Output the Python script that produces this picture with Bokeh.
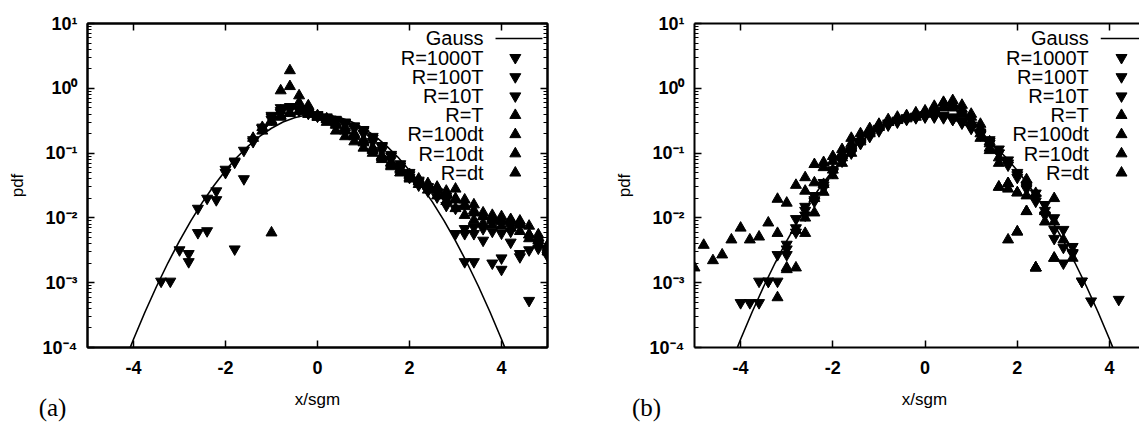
from bokeh.plotting import figure
from bokeh.models import Range1d, LogAxis, LinearAxis, FixedTicker, CustomJSTickFormatter
from bokeh.layouts import row, column
from bokeh.embed import file_html
from bokeh.resources import INLINE
from bokeh.core.properties import value

# ---------------- data ----------------
legend_labels = ["R=1000T", "R=100T", "R=10T", "R=T", "R=100dt", "R=10dt", "R=dt"]
legend_markers = ["inverted_triangle"] * 3 + ["triangle"] * 4
x_label = "x/sgm"
y_label = "pdf"
panel_tags = ["(a)", "(b)"]

gauss_x = [-4.1, -4.0, -3.75, -3.5, -3.25, -3.0, -2.75, -2.5, -2.25, -2.0, -1.75, -1.5, -1.25, -1.0,
           -0.75, -0.5, -0.25, 0.0, 0.25, 0.5, 0.75, 1.0, 1.25, 1.5, 1.75, 2.0, 2.25, 2.5, 2.75,
           3.0, 3.25, 3.5, 3.75, 4.0, 4.1]
gauss_y = [8.9e-5, 1.34e-4, 3.53e-4, 8.73e-4, 2.03e-3, 4.43e-3, 9.09e-3, 1.75e-2, 3.17e-2, 5.40e-2,
           8.63e-2, 0.1295, 0.1826, 0.2420, 0.3011, 0.3521, 0.3867, 0.3989, 0.3867, 0.3521, 0.3011,
           0.2420, 0.1826, 0.1295, 8.63e-2, 5.40e-2, 3.17e-2, 1.75e-2, 9.09e-3, 4.43e-3, 2.03e-3,
           8.73e-4, 3.53e-4, 1.34e-4, 8.9e-5]

# panel (a)
a_x_1000T = [-3.4, -3.2, -2.8, -1.8, -1.2, -1.0, -0.8, -0.6, -0.4, -0.2, 0.0, 0.2, 0.4, 0.6, 0.8,
             1.0, 1.2, 1.4, 1.6, 1.8, 2.0, 2.2, 2.4, 2.6, 2.8, 3.2, 3.4, 3.8, 4.0, 4.6]
a_y_1000T = [1.05e-3, 1.05e-3, 2.1e-3, 3.3e-3, 0.24, 0.36, 0.45, 0.49, 0.47, 0.42, 0.39, 0.36, 0.33,
             0.3, 0.26, 0.22, 0.17, 0.125, 0.09, 0.063, 0.046, 0.036, 0.03, 0.025, 0.02, 2.1e-3,
             2.1e-3, 2.0e-3, 1.6e-3, 5.3e-4]
a_x_100T = [-3.0, -2.8, -2.6, -2.4, -2.2, -2.0, -1.8, -1.6, -1.4, -1.2, -1.0, -0.8, -0.6, -0.4, -0.2,
            0.0, 0.2, 0.4, 0.6, 0.8, 1.0, 1.2, 1.4, 1.6, 1.8, 2.0, 2.2, 2.4, 2.6, 2.8, 3.0, 3.2,
            3.4, 3.6, 4.0, 4.2, 4.4, 4.8]
a_y_100T = [3.2e-3, 2.8e-3, 5.9e-3, 6.3e-3, 1.9e-2, 5.0e-2, 7.2e-2, 4.0e-2, 0.15, 0.25, 0.38, 0.5,
            0.52, 0.48, 0.42, 0.38, 0.35, 0.32, 0.29, 0.26, 0.23, 0.18, 0.13, 0.095, 0.068, 0.05,
            0.038, 0.03, 0.025, 0.019, 5.7e-3, 5.7e-3, 5.7e-3, 4.5e-3, 2.4e-3, 4.2e-3, 2.5e-3, 4.0e-3]
a_x_10T = [-2.6, -2.4, -2.2, -2.0, -1.8, -1.6, -1.4, -1.2, -1.0, -0.8, -0.6, -0.4, -0.2, 0.0, 0.2,
           0.4, 0.6, 0.8, 1.0, 1.2, 1.4, 1.6, 1.8, 2.0, 2.2, 2.4, 2.6, 2.8, 3.0, 3.2, 3.4, 3.6, 3.8,
           4.0, 4.2, 4.4, 4.6, 4.8, 5.0]
a_y_10T = [1.4e-2, 2.0e-2, 2.6e-2, 5.6e-2, 7.5e-2, 0.11, 0.16, 0.24, 0.33, 0.42, 0.47, 0.45, 0.41,
           0.37, 0.34, 0.31, 0.28, 0.24, 0.2, 0.15, 0.11, 0.08, 0.058, 0.042, 0.032, 0.026, 0.021,
           0.0155, 0.014, 0.0068, 0.0072, 0.0068, 0.0062, 0.0058, 0.0062, 0.0028, 0.0032, 0.0034,
           0.0026]
a_x_T = [-1.0, -0.8, -0.6, -0.4, -0.2, 0.0, 0.2, 0.4, 0.6, 0.8, 1.0, 1.2, 1.4, 1.6, 1.8, 2.0, 2.2,
         2.4, 2.6, 2.8, 3.0, 3.2, 3.4, 3.6, 3.8, 4.0, 4.2, 4.4, 4.6, 4.8, 5.0]
a_y_T = [5.9e-3, 0.92, 1.88, 0.77, 0.54, 0.36, 0.3, 0.22, 0.18, 0.15, 0.12, 0.1, 0.08, 0.062, 0.05,
         0.042, 0.036, 0.032, 0.03, 0.026, 0.028, 0.019, 0.016, 0.012, 0.011, 0.0105, 0.0095, 0.009,
         0.0055, 0.0055, 0.0035]
a_x_100dt = [-0.8, -0.6, -0.4, -0.2, 0.0, 0.2, 0.4, 0.6, 0.8, 1.0, 1.2, 1.4, 1.6, 1.8, 2.0, 2.2,
             2.4, 2.6, 2.8, 3.0, 3.2, 3.4, 3.6, 3.8, 4.0, 4.2, 4.4, 4.6, 4.8, 5.0]
a_y_100dt = [0.45, 1.07, 0.6, 0.5, 0.38, 0.33, 0.27, 0.22, 0.18, 0.145, 0.115, 0.09, 0.072, 0.058,
             0.047, 0.04, 0.034, 0.029, 0.024, 0.02, 0.016, 0.013, 0.0105, 0.0098, 0.0096, 0.0092,
             0.0085, 0.0075, 0.005, 0.0038]
a_x_10dt = [-1.4, -1.2, -1.0, -0.8, -0.6, -0.4, -0.2, 0.0, 0.2, 0.4, 0.6, 0.8, 1.0, 1.2, 1.4, 1.6,
            1.8, 2.0, 2.2, 2.4, 2.6, 2.8, 3.0, 3.2, 3.4, 3.6, 3.8, 4.0, 4.2, 4.4, 4.6, 4.8, 5.0]
a_y_10dt = [0.17, 0.25, 0.32, 0.38, 0.42, 0.45, 0.4, 0.37, 0.33, 0.28, 0.23, 0.19, 0.15, 0.11, 0.085,
            0.065, 0.05, 0.04, 0.033, 0.027, 0.022, 0.018, 0.014, 0.011, 0.0092, 0.0082, 0.0078,
            0.0075, 0.007, 0.0062, 0.0048, 0.0045, 0.0033]
a_x_dt = [-1.2, -1.0, -0.8, -0.6, -0.4, -0.2, 0.0, 0.2, 0.4, 0.6, 0.8, 1.0, 1.2, 1.4, 1.6, 1.8, 2.0,
          2.2, 2.4, 2.6, 2.8, 3.0, 3.2, 3.4, 3.6, 3.8, 4.0, 4.2, 4.4, 4.6, 4.8, 5.0]
a_y_dt = [0.22, 0.3, 0.36, 0.41, 0.44, 0.4, 0.36, 0.34, 0.3, 0.25, 0.2, 0.16, 0.12, 0.09, 0.07,
          0.055, 0.045, 0.037, 0.031, 0.027, 0.023, 0.019, 0.015, 0.012, 0.0105, 0.0092, 0.0088,
          0.0082, 0.0078, 0.0055, 0.004, 0.003]

# panel (b)
b_x_1000T = [-3.8, -3.6, -3.4, -3.2, -3.0, -2.8, -2.6, -2.4, -2.2, -2.0, -1.8, -1.6, -1.4, -1.2,
             -1.0, -0.8, -0.6, -0.4, -0.2, 0.0, 0.2, 0.4, 0.6, 0.8, 1.0, 1.2, 1.4, 1.6, 1.8, 2.0,
             2.2, 2.4, 2.6, 2.8, 3.0, 3.2, 3.4, 3.6, 4.2]
b_y_1000T = [4.9e-4, 4.9e-4, 1.05e-3, 1.05e-3, 2.7e-3, 6.0e-3, 1.5e-2, 1.9e-2, 2.9e-2, 5.0e-2,
             7.5e-2, 0.1, 0.14, 0.18, 0.22, 0.27, 0.3, 0.33, 0.35, 0.36, 0.37, 0.36, 0.33, 0.3,
             0.25, 0.2, 0.15, 0.1, 0.07, 0.046, 0.032, 0.024, 0.016, 0.010, 6.6e-3, 2.8e-3,
             1.05e-3, 5.2e-4, 5.5e-4]
b_x_100T = [-4.0, -3.6, -3.4, -3.2, -3.0, -2.8, -2.6, -2.4, -2.2, -2.0, -1.8, -1.6, -1.4, -1.2,
            -1.0, -0.8, -0.6, -0.4, -0.2, 0.0, 0.2, 0.4, 0.6, 0.8, 1.0, 1.2, 1.4, 1.6, 1.8, 2.0,
            2.2, 2.4, 2.6, 2.8, 3.0, 3.2]
b_y_100T = [4.9e-4, 1.05e-3, 1.05e-3, 2.7e-3, 3.9e-3, 9.7e-3, 1.3e-2, 2.2e-2, 3.5e-2, 5.5e-2,
            8.0e-2, 0.11, 0.15, 0.19, 0.24, 0.28, 0.31, 0.34, 0.37, 0.39, 0.4, 0.38, 0.36, 0.32,
            0.27, 0.21, 0.16, 0.115, 0.078, 0.05, 0.03, 0.02, 0.013, 4.8e-3, 2.0e-3, 3.6e-3]
b_x_10T = [-3.0, -2.8, -2.6, -2.4, -2.2, -2.0, -1.8, -1.6, -1.4, -1.2, -1.0, -0.8, -0.6, -0.4, -0.2,
           0.0, 0.2, 0.4, 0.6, 0.8, 1.0, 1.2, 1.4, 1.6, 1.8, 2.0, 2.2, 2.4, 2.6, 2.8, 3.0, 3.2, 3.4]
b_y_10T = [3.3e-3, 7e-3, 1.1e-2, 1.8e-2, 3.2e-2, 5.2e-2, 7.8e-2, 0.105, 0.145, 0.19, 0.235, 0.29,
           0.32, 0.35, 0.36, 0.37, 0.36, 0.35, 0.33, 0.29, 0.24, 0.19, 0.14, 0.1, 0.065, 0.042,
           0.028, 0.018, 0.011, 6.6e-3, 3.5e-3, 2.9e-3, 1.05e-3]
b_x_T = [-3.2, -3.0, -2.8, -2.6, -2.4, -2.2, -2.0, -1.8, -1.6, -1.4, -1.2, -1.0, -0.8, -0.6, -0.4,
         -0.2, 0.0, 0.2, 0.4, 0.6, 0.8, 1.0, 1.2, 1.4, 1.6, 1.8, 2.0, 2.2, 2.4, 2.6, 2.8]
b_y_T = [5.9e-4, 1.7e-3, 1.7e-3, 5.8e-3, 1.2e-2, 2.5e-2, 4.5e-2, 7e-2, 0.1, 0.15, 0.2, 0.26, 0.3,
         0.33, 0.36, 0.4, 0.43, 0.5, 0.61, 0.65, 0.55, 0.4, 0.28, 0.11, 0.03, 4.6e-3, 6.1e-3,
         1.26e-2, 1.7e-3, 8.7e-3, 2.4e-3]
b_x_100dt = [-2.8, -2.6, -2.4, -2.2, -2.0, -1.8, -1.6, -1.4, -1.2, -1.0, -0.8, -0.6, -0.4, -0.2,
             0.0, 0.2, 0.4, 0.6, 0.8, 1.0, 1.2, 1.4, 1.6, 1.8, 2.0, 2.2, 2.4, 2.6, 2.8, 3.0, 3.2]
b_y_100dt = [6.5e-3, 1.0e-2, 2.0e-2, 3.3e-2, 5.5e-2, 8.5e-2, 0.12, 0.16, 0.21, 0.25, 0.3, 0.34, 0.37,
             0.39, 0.42, 0.47, 0.52, 0.55, 0.48, 0.36, 0.24, 0.15, 0.085, 0.034, 0.0245, 0.039,
             0.024, 0.0126, 0.0087, 4.6e-3, 2.4e-3]
b_x_10dt = [-3.2, -3.0, -2.8, -2.6, -2.4, -2.2, -2.0, -1.8, -1.6, -1.4, -1.2, -1.0, -0.8, -0.6,
            -0.4, -0.2, 0.0, 0.2, 0.4, 0.6, 0.8, 1.0, 1.2, 1.4, 1.6, 1.8, 2.0, 2.2, 2.4, 2.8]
b_y_10dt = [1.95e-2, 1.7e-2, 3.2e-2, 4.2e-2, 6.7e-2, 7.2e-2, 8.9e-2, 0.114, 0.17, 0.2, 0.24, 0.28,
            0.33, 0.36, 0.38, 0.42, 0.45, 0.53, 0.6, 0.58, 0.44, 0.3, 0.17, 0.12, 0.03, 0.034,
            0.0245, 0.0126, 1.7e-3, 2.4e-3]
b_x_dt = [-5.0, -4.8, -4.6, -4.4, -4.2, -4.0, -3.8, -3.6, -3.4, -3.2, -3.0, -2.8, -2.6, -2.4, -2.2,
          -2.0, -1.8, -1.6, -1.4, -1.2, -1.0, -0.8, -0.6, -0.4, -0.2, 0.0, 0.2, 0.4, 0.6, 0.8, 1.0,
          1.2, 1.4, 1.6, 1.8, 2.0, 2.2, 2.4, 2.6, 2.8]
b_y_dt = [1.7e-3, 3.8e-3, 2.2e-3, 2.7e-3, 4.6e-3, 7.0e-3, 4.6e-3, 5.1e-3, 8.4e-3, 5.8e-3, 1.6e-3,
          6.5e-3, 2.6e-2, 3.5e-2, 6e-2, 7.5e-2, 0.1, 0.14, 0.17, 0.22, 0.27, 0.3, 0.32, 0.34, 0.36,
          0.4, 0.46, 0.5, 0.5, 0.4, 0.3, 0.2, 0.14, 0.07, 0.028, 6.1e-3, 2.2e-2, 1.7e-3, 1.3e-2,
          2.0e-2]

x_ticks = [-4, -2, 0, 2, 4]
x_tick_labels = {-4: "-4", -2: "-2", 0: "0", 2: "2", 4: "4"}
y_ticks = [1e-4, 1e-3, 1e-2, 1e-1, 1e0, 1e1]
y_minor = [m * 10.0 ** e for e in range(-4, 1) for m in range(2, 10)]

# ---------------- style ----------------
FONT = "Liberation Sans"
SERIF = "Liberation Serif"
BLACK = "#000000"
FRAME_TOP = 23
FRAME_H = 324
PANEL_H = 387

sup_fmt = CustomJSTickFormatter(code="""
const e = Math.round(Math.log10(tick));
const s = {"-": "\u207b", "0": "\u2070", "1": "\u00b9", "2": "\u00b2", "3": "\u00b3", "4": "\u2074"};
return "10" + String(e).split("").map(c => s[c]).join("");
""")


def style_axis(ax):
    ax.axis_line_width = 2
    ax.axis_line_color = BLACK
    ax.major_tick_in = 7
    ax.major_tick_out = 0
    ax.minor_tick_in = 4
    ax.minor_tick_out = 0
    ax.major_tick_line_width = 1.5
    ax.minor_tick_line_width = 1
    ax.major_tick_line_color = BLACK
    ax.minor_tick_line_color = BLACK
    ax.major_label_text_font = FONT
    ax.major_label_text_font_style = "bold"
    ax.major_label_text_color = BLACK
    ax.major_label_text_font_size = "18px"
    ax.axis_label_text_font = FONT
    ax.axis_label_text_font_style = "normal"
    ax.axis_label_text_font_size = "17px"
    ax.axis_label_text_color = BLACK


def tick_only(ax):
    """mirror axis: ticks only, no labels"""
    style_axis(ax)
    ax.major_label_text_font_size = "0px"
    ax.major_label_standoff = 0
    ax.major_label_text_color = None


def make_panel(series, xmax, width, border_left, border_right, leg_text_x, leg_mark_x,
               leg_line_x0, leg_line_x1, mirror_right):
    p = figure(width=width, height=PANEL_H, x_range=Range1d(-5, xmax), y_range=Range1d(1e-4, 10),
               y_axis_type="log", output_backend="svg", toolbar_location=None,
               min_border_left=border_left, min_border_right=border_right,
               min_border_top=FRAME_TOP, min_border_bottom=PANEL_H - FRAME_TOP - FRAME_H)
    p.xgrid.visible = False
    p.ygrid.visible = False
    if mirror_right:
        p.outline_line_color = BLACK
        p.outline_line_width = 2
    else:
        p.outline_line_color = None

    xa = p.xaxis[0]
    xa.ticker = FixedTicker(ticks=x_ticks)
    xa.major_label_overrides = x_tick_labels
    style_axis(xa)
    xa.major_label_standoff = 13

    ya = p.yaxis[0]
    ya.ticker = FixedTicker(ticks=y_ticks, minor_ticks=y_minor)
    ya.formatter = sup_fmt
    ya.axis_label = y_label
    style_axis(ya)
    ya.major_label_standoff = 10
    ya.axis_label_standoff = 13

    top = LinearAxis(ticker=FixedTicker(ticks=x_ticks), major_label_overrides=x_tick_labels)
    tick_only(top)
    p.add_layout(top, "above")
    if mirror_right:
        right = LogAxis(ticker=FixedTicker(ticks=y_ticks, minor_ticks=y_minor), formatter=sup_fmt)
        tick_only(right)
        p.add_layout(right, "right")

    # Gaussian reference curve
    p.line(gauss_x, gauss_y, line_color=BLACK, line_width=1.6)

    # data series
    for (xs, ys), mk in zip(series, legend_markers):
        p.scatter(xs, ys, marker=mk, size=11, fill_color=BLACK, line_color=BLACK)

    # legend (text right-aligned, sample on the right, gnuplot style)
    rows = [10 ** (0.769 - 0.2963 * i) for i in range(8)]
    p.text(x=[leg_text_x] * 8, y=rows, text=["Gauss"] + legend_labels, text_align="right",
           text_baseline="middle", text_font=value(FONT), text_font_size="20px",
           text_color=BLACK)
    p.line([leg_line_x0, leg_line_x1], [rows[0], rows[0]], line_color=BLACK, line_width=1.6)
    p.scatter(x=[leg_mark_x] * 7, y=rows[1:], marker=legend_markers, size=11,
              fill_color=BLACK, line_color=BLACK)
    return p


series_a = [(a_x_1000T, a_y_1000T), (a_x_100T, a_y_100T), (a_x_10T, a_y_10T), (a_x_T, a_y_T),
            (a_x_100dt, a_y_100dt), (a_x_10dt, a_y_10dt), (a_x_dt, a_y_dt)]
series_b = [(b_x_1000T, b_y_1000T), (b_x_100T, b_y_100T), (b_x_10T, b_y_10T), (b_x_T, b_y_T),
            (b_x_100dt, b_y_100dt), (b_x_10dt, b_y_10dt), (b_x_dt, b_y_dt)]

WA, WB = 607, 532
pa = make_panel(series_a, 5.0, WA, 87, 60, 3.61, 4.30, 3.87, 4.89, True)
pb = make_panel(series_b, 4.65, WB, 87, 0, 3.55, 4.26, 3.81, 4.65, False)

# bottom strip: x-axis titles and the panel tags (a), (b), in pixel coordinates of the strip
STRIP_H = 36
strip = figure(width=WA + WB, height=STRIP_H, x_range=Range1d(0, WA + WB),
               y_range=Range1d(STRIP_H, 0), output_backend="svg", toolbar_location=None,
               x_axis_location=None, y_axis_location=None, min_border=0)
strip.outline_line_color = None
strip.xgrid.visible = False
strip.ygrid.visible = False
strip.text(x=[317, 924], y=[12, 12], text=[x_label, x_label], text_align="center",
           text_baseline="middle", text_font=value(FONT), text_font_size="17px", text_color=BLACK)
strip.text(x=[52, 646], y=[20, 20], text=panel_tags, text_align="center",
           text_baseline="middle", text_font=value(SERIF), text_font_size="25px", text_color=BLACK)

layout = column(row(pa, pb), strip)
open("out.html", "w").write(file_html(layout, INLINE))
